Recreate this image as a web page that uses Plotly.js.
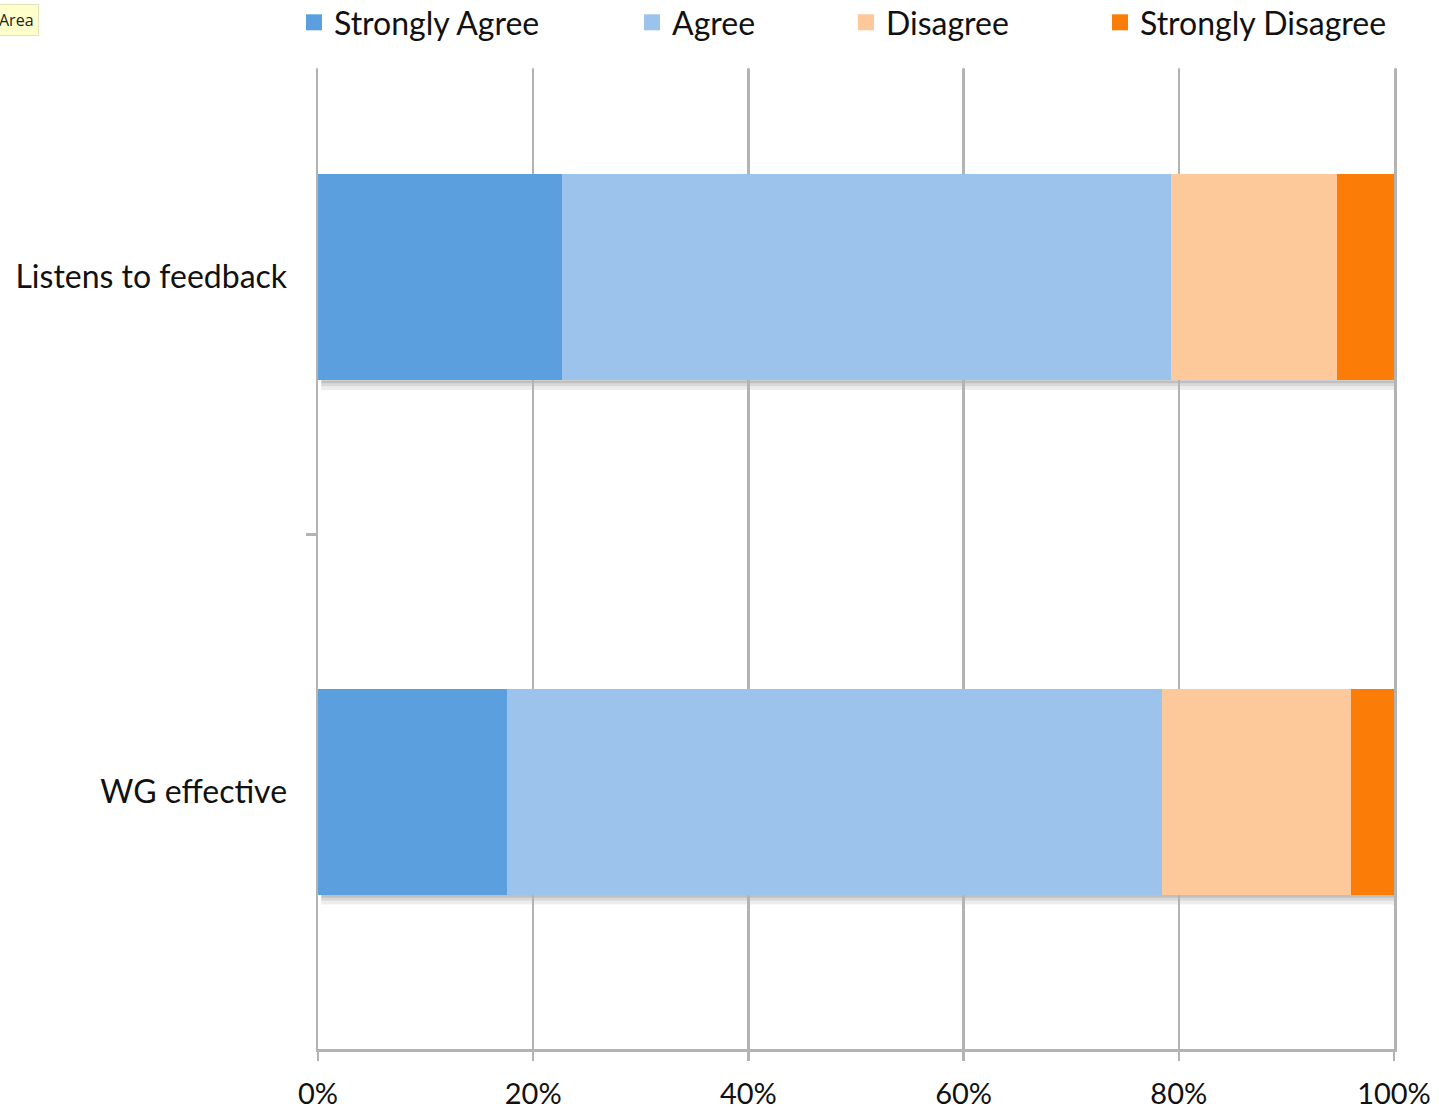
<!DOCTYPE html>
<html>
<head>
<meta charset="utf-8">
<script src="https://cdn.plot.ly/plotly-3.0.1.min.js"></script>
<style>html,body{margin:0;padding:0;background:#fff;}#chart{width:1439px;height:1110px;}</style>
</head>
<body>
<div id="chart"></div>
<script>
const categories = ["Listens to feedback", "WG effective"];
const seriesNames = ["Strongly Agree", "Agree", "Disagree", "Strongly Disagree"];
const stronglyAgree = [22.7, 17.6];
const agree = [56.6, 60.8];
const disagree = [15.4, 17.6];
const stronglyDisagree = [5.3, 4.0];
const xTickVals = [0, 20, 40, 60, 80, 100];
const xTickText = ["0%", "20%", "40%", "60%", "80%", "100%"];

const colors = ["#5b9fde", "#9bc3eb", "#fdc99b", "#fb7d07"];
const values = [stronglyAgree, agree, disagree, stronglyDisagree];
const legendIds = ["legend", "legend2", "legend3", "legend4"];
const legendXpx = [294, 632, 846, 1100];
const BAR_W = 0.4;

const FONT = "Lato, 'Open Sans', sans-serif";
const GRID = "#b3b3b3";

const barTraces = seriesNames.map((name, i) => ({
  type: "bar",
  orientation: "h",
  name: name,
  y: categories,
  x: values[i],
  marker: {color: colors[i], line: {width: 0}},
  width: BAR_W,
  showlegend: false,
  hoverinfo: "x+name"
}));
// legend-only entries with larger square swatches
const legendTraces = seriesNames.map((name, i) => ({
  type: "scatter", mode: "markers",
  name: name,
  x: [null], y: [null],
  marker: {symbol: "square", size: 18, color: colors[i]},
  legend: legendIds[i],
  hoverinfo: "skip"
}));

const PLOT_L = 318, PLOT_W = 1076, PLOT_T = 20, PLOT_H = 1029;
const legendBase = {
  orientation: "h",
  xref: "paper", yref: "paper",
  y: 1 + (PLOT_T + 5) / PLOT_H, yanchor: "top",
  xanchor: "left",
  bgcolor: "rgba(0,0,0,0)",
  font: {family: FONT, size: 32, color: "#111"},
  itemwidth: 30
};

// soft drop shadow under each bar (decorative)
const shadowShapes = [];
categories.forEach((c, idx) => {
  [[0.000, 0.006, 0.25], [0.006, 0.012, 0.15], [0.012, 0.019, 0.07]].forEach(s => {
    shadowShapes.push({type: "rect", xref: "x", yref: "y", layer: "below",
      x0: 0.3, x1: 100.2, y0: idx + BAR_W / 2 + s[0], y1: idx + BAR_W / 2 + s[1],
      fillcolor: "rgba(0,0,0," + s[2] + ")", line: {width: 0}});
  });
});

const layout = {
  width: 1439, height: 1110,
  margin: {l: PLOT_L, r: 45, t: PLOT_T, b: 61, autoexpand: false},
  paper_bgcolor: "#fff", plot_bgcolor: "#fff",
  barmode: "stack",
  font: {family: FONT, size: 30, color: "#111"},
  xaxis: {
    range: [0, 100],
    tickvals: xTickVals, ticktext: xTickText,
    showgrid: true, gridcolor: GRID, gridwidth: 2.5,
    zeroline: false,
    showline: true, linecolor: GRID, linewidth: 2.5,
    ticks: "outside", ticklen: 9, tickwidth: 2.5, tickcolor: GRID,
    ticklabelstandoff: 9,
    tickfont: {family: FONT, size: 29, color: "#111"},
    fixedrange: true
  },
  yaxis: {
    type: "category",
    autorange: "reversed",
    tickson: "boundaries",
    ticks: "outside", ticklen: 10, tickwidth: 2.5, tickcolor: GRID,
    showgrid: false, zeroline: false,
    showline: true, mirror: true, linecolor: GRID, linewidth: 2.5,
    ticklabelstandoff: 22,
    tickfont: {family: FONT, size: 32, color: "#111"},
    fixedrange: true
  },
  shapes: [
    {type: "rect", xref: "paper", yref: "paper", x0: -0.013, x1: 1.01, y0: 0.953, y1: 1.01,
     fillcolor: "#fff", line: {width: 0}, layer: "above"}
  ].concat(shadowShapes),
  annotations: [
    {xref: "paper", yref: "paper", x: (-6 - PLOT_L) / PLOT_W, y: (PLOT_H + PLOT_T - 4) / PLOT_H,
     xanchor: "left", yanchor: "top", text: "Area", showarrow: false,
     font: {family: "'Open Sans', sans-serif", size: 16, color: "#222"},
     bgcolor: "#ffffcc", bordercolor: "#e2e2b8", borderwidth: 1, borderpad: 4}
  ],
  showlegend: true
};
legendIds.forEach((id, i) => {
  layout[id] = Object.assign({}, legendBase, {x: (legendXpx[i] - PLOT_L) / PLOT_W});
});

Plotly.newPlot("chart", barTraces.concat(legendTraces), layout, {displayModeBar: false, staticPlot: true});
</script>
</body>
</html>
